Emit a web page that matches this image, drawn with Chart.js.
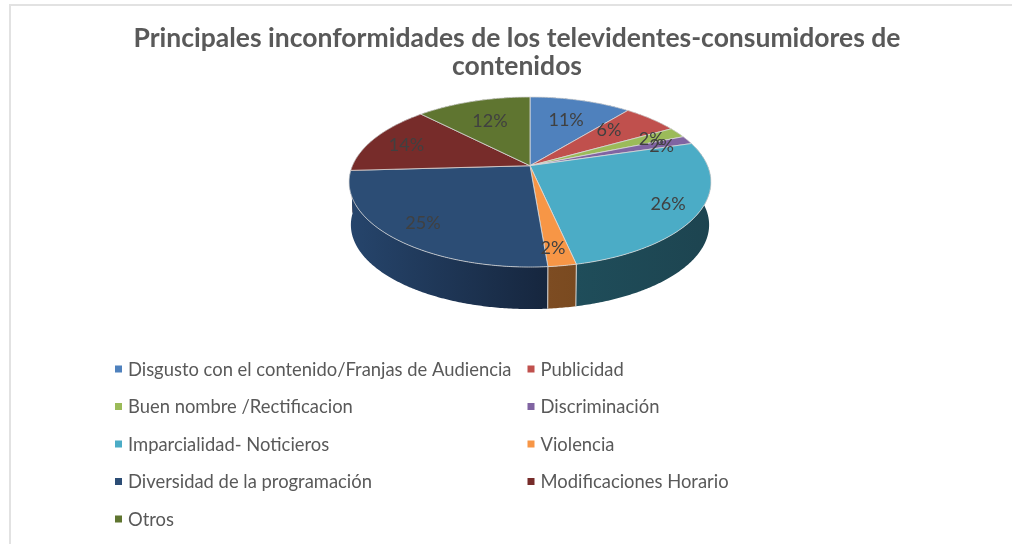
<!DOCTYPE html>
<html lang="es">
<head>
  <meta charset="UTF-8">
  <title>Principales inconformidades</title>
  <script src="https://cdn.jsdelivr.net/npm/chart.js"></script>
  <style>
    html, body { margin: 0; padding: 0; background: #fff; }
    #wrap { position: relative; width: 1012px; height: 544px; overflow: hidden; }
    #edge { position: absolute; left: 9px; top: 4px; width: 1003px; height: 540px; border-left: 2px solid #e2e2e2; border-top: 2px solid #e2e2e2; box-sizing: border-box; }
    canvas { position: absolute; left: 0; top: 0; }
  </style>
</head>
<body>
  <div id="wrap">
    <div id="edge"></div>
    <canvas id="chart" width="1012" height="544"></canvas>
  </div>

  <script>
    const titleLines = ['Principales inconformidades de los televidentes-consumidores de', 'contenidos'];
    const categories = [
      'Disgusto con el contenido/Franjas de Audiencia', 'Publicidad',
      'Buen nombre /Rectificacion', 'Discriminación',
      'Imparcialidad- Noticieros', 'Violencia',
      'Diversidad de la programación', 'Modificaciones Horario',
      'Otros'
    ];
    const values = [10.9, 5.9, 2.0, 1.6, 26.2, 2.1, 25.4, 13.6, 12.3];
    const sliceColors = ['#4f81bd', '#c0504d', '#9bbb59', '#8064a2', '#4bacc6', '#f79646', '#2c4d75', '#772c2a', '#5f7530'];
    const wallLeft = ['#2d4a6e', '#6e2e2c', '#5a6d33', '#4a3a5e', '#1f4d5a', '#7d4c22', '#26456c', '#451a19', '#374418'];
    const wallRight = ['#2d4a6e', '#6e2e2c', '#5a6d33', '#4a3a5e', '#1d4450', '#7a4a20', '#16263e', '#451a19', '#374418'];
    // where each percent label sits on its slice
    const labelRadius = [0.68, 0.69, 0.81, 0.82, 0.83, 0.84, 0.81, 0.78, 0.67];
    const labelNudge = [0, -5, 0, 1, 0, 1, 0, -1, 0];

    const FONT = 'Lato, "Open Sans", sans-serif';
    const TEXT = '#404040';

    // perspective of the tilted disc, relative to the arc radius
    const tilt = 0.1918, widthRatio = 2.072, heightRatio = 0.9557;
    const baseScale = 0.99, depthRatio = 0.502;

    function project(arc, angle, r, s, drop) {
      const u = r * Math.cos(angle), v = r * Math.sin(angle);
      const den = 1 - tilt * v;
      return {
        x: arc.x + s * arc.outerRadius * widthRatio * u / den,
        y: arc.y + s * arc.outerRadius * heightRatio * v / den + drop
      };
    }

    function arcPoints(arc, from, to, s, drop) {
      const n = Math.max(2, Math.ceil((to - from) / 0.01));
      const pts = [];
      for (let i = 0; i <= n; i++) pts.push(project(arc, from + (to - from) * i / n, 1, s, drop));
      return pts;
    }

    const pie3d = {
      id: 'pie3d',
      afterLayout(chart) {
        // the title is centred left of the pie
        chart.titleBlock.left -= 13;
        chart.titleBlock.right -= 13;
      },
      beforeDatasetsDraw(chart) {
        const ctx = chart.ctx;
        const arcs = chart.getDatasetMeta(0).data;
        ctx.save();

        // side walls back to front, the top face covers their back parts
        const midSin = arc => Math.sin((arc.startAngle + arc.endAngle) / 2);
        const order = arcs.map((arc, i) => i).sort((a, b) => midSin(arcs[a]) - midSin(arcs[b]));
        order.forEach(i => {
          const arc = arcs[i];
          const drop = arc.outerRadius * depthRatio;
          const top = arcPoints(arc, arc.startAngle, arc.endAngle, 1, 0);
          const bottom = arcPoints(arc, arc.startAngle, arc.endAngle, baseScale, drop);
          const xs = top.map(p => p.x);
          const grad = ctx.createLinearGradient(Math.min(...xs), 0, Math.max(...xs), 0);
          grad.addColorStop(0, wallLeft[i]);
          grad.addColorStop(1, wallRight[i]);
          ctx.beginPath();
          top.forEach((p, j) => j ? ctx.lineTo(p.x, p.y) : ctx.moveTo(p.x, p.y));
          bottom.reverse().forEach(p => ctx.lineTo(p.x, p.y));
          ctx.closePath();
          ctx.fillStyle = grad;
          ctx.fill();
        });
        // light seams between the walls at the front
        arcs.forEach(arc => {
          const drop = arc.outerRadius * depthRatio;
          const a = project(arc, arc.startAngle, 1, 1, 0);
          const b = project(arc, arc.startAngle, 1, baseScale, drop);
          if (Math.sin(arc.startAngle) > 0.3) {
            ctx.beginPath();
            ctx.moveTo(a.x, a.y);
            ctx.lineTo(b.x, b.y);
            ctx.strokeStyle = '#d9d9d9';
            ctx.lineWidth = 1;
            ctx.stroke();
          }
        });

        // top face
        arcs.forEach((arc, i) => {
          const pts = arcPoints(arc, arc.startAngle, arc.endAngle, 1, 0);
          ctx.beginPath();
          ctx.moveTo(arc.x, arc.y);
          pts.forEach(p => ctx.lineTo(p.x, p.y));
          ctx.closePath();
          ctx.fillStyle = sliceColors[i];
          ctx.fill();
          ctx.strokeStyle = '#d9d9d9';
          ctx.lineWidth = 0.8;
          ctx.stroke();
        });

        // percent labels
        const total = values.reduce((a, b) => a + b, 0);
        ctx.font = '18px ' + FONT;
        ctx.fillStyle = TEXT;
        ctx.textAlign = 'center';
        ctx.textBaseline = 'middle';
        arcs.forEach((arc, i) => {
          const mid = (arc.startAngle + arc.endAngle) / 2 + labelNudge[i] * Math.PI / 180;
          const p = project(arc, mid, labelRadius[i], 1, 0);
          ctx.fillText(Math.round(values[i] / total * 100) + '%', p.x, p.y + 1);
        });

        // legend, two columns read across
        ctx.font = '18.4px ' + FONT;
        ctx.textAlign = 'left';
        categories.forEach((name, i) => {
          const col = i % 2, row = Math.floor(i / 2);
          const x = 115 + col * 412.5, y = 369 + row * 37.5;
          ctx.fillStyle = sliceColors[i];
          ctx.fillRect(x, y - 3.5, 7, 7);
          ctx.fillStyle = '#595959';
          ctx.fillText(name, x + 13, y + 1);
        });

        ctx.restore();
        return false;
      }
    };

    new Chart(document.getElementById('chart'), {
      type: 'pie',
      data: {
        labels: categories,
        datasets: [{ data: values, backgroundColor: sliceColors, borderWidth: 0 }]
      },
      plugins: [pie3d],
      options: {
        responsive: false,
        animation: false,
        layout: { padding: { left: 48, bottom: 292.6 } },
        plugins: {
          legend: { display: false },
          tooltip: { enabled: false },
          title: {
            display: true,
            text: titleLines,
            color: '#595959',
            font: { family: FONT, size: 26.5, weight: 'bold', lineHeight: 1.0566 },
            padding: { top: 24, bottom: 0 }
          }
        }
      }
    });
  </script>
</body>
</html>
